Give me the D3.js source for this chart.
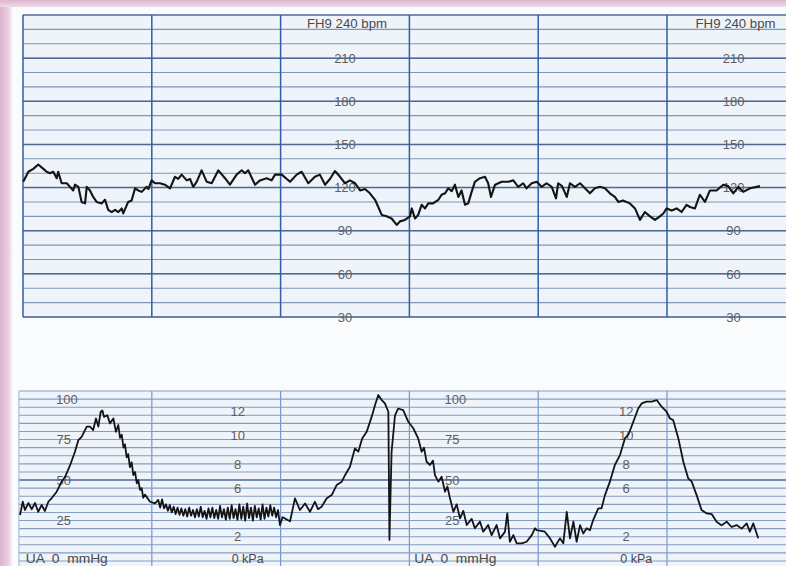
<!DOCTYPE html>
<html>
<head>
<meta charset="utf-8">
<script src="https://cdn.jsdelivr.net/npm/d3@7"></script>
<style>
html,body{margin:0;padding:0;background:#f9fbfd;}
svg{display:block;}
text{font-family:"Liberation Sans",Arial,sans-serif;}
</style>
</head>
<body>
<svg id="chart" width="786" height="566"></svg>
<script>
// ---------- DATA ----------
// Fetal heart rate trace: time (s) and beats per minute
const fhrTime = [0.1,2.5,4.8,7.1,9.5,11.0,12.6,14.1,15.7,16.4,18.0,20.4,21.9,23.4,24.2,25.8,27.3,28.9,29.7,31.2,32.7,34.3,36.7,38.2,39.7,41.3,42.9,44.4,46.0,46.7,49.0,50.6,52.2,53.7,55.3,57.6,58.4,59.9,61.5,63.8,66.1,68.5,70.8,72.3,73.9,76.3,77.8,79.3,80.9,83.2,85.6,87.9,91.0,94.1,96.4,99.5,101.9,103.4,104.9,106.5,108.1,110.4,113.5,115.8,117.4,120.5,124.4,127.5,129.8,132.9,136.0,138.3,140.7,143.0,145.3,147.7,150.0,152.3,154.7,157.0,159.3,161.6,164.0,165.5,167.1,169.4,171.7,174.1,175.6,177.9,180.3,181.1,182.6,184.1,185.7,187.3,188.8,191.0,193.5,195.0,196.6,198.1,199.7,201.2,202.8,204.3,205.9,207.4,209.0,210.5,212.9,215.2,216.7,218.0,219.9,223.0,226.1,228.4,230.7,233.0,234.6,237.0,239.3,241.6,243.9,246.3,248.3,249.3,251.1,253.3,254.8,257.1,259.5,261.8,264.1,266.4,268.8,271.1,273.4,275.7,277.3,279.5,282.7,285.1,287.4,289.7,292.1,294.4,296.7,298.3,299.8,302.2,304.5,306.8,309.1,310.7,313.0,315.3,317.7,320.0,323.1,326.2,328.5,330.9,333.2,335.5,338.7,341.8,343.3];
const fhrBpm = [124,131,133,136,133,131,130,131,126.5,131,123,123,120.5,118,122,120.5,110,109,120.5,118,113.5,110,109,111.5,104.5,103,104.5,103,105.5,102,110,111,119.5,118,117,120.5,119,125,123,123,122,119.5,127.5,126,129,125,126,120.5,124,132,124,123,132,126.5,122,129,132,130,132,127,122,125,126.5,125,129,129,124,129,131,123,127.5,129,122,126,131.5,127.5,123,125,123,118,119,116,111.5,106.5,101,100,98.5,94,96.5,97.5,100,105.5,98.5,101,108,105.5,109,109,111.5,115,116,119.5,117.5,122,113.5,118,108,109,117,124,126.5,127.5,123,113.5,122,124,124,125,120.5,123,119.5,123,124,120.5,123,120.5,112.5,123,121,113.5,123,120.5,123,119.5,116,119.5,120.5,119.5,116,113.5,110,111,109,105.5,97.5,103,100,97.5,100,102,105.5,104,105.5,103,108,106.5,105.5,115,110,118,118,122,121,116,120.5,117,119.5,120.5,121];

// Uterine activity trace: time (s) and pressure (mmHg)
const uaTime = [-1.4,-0.1,0.9,2.5,4.1,5.6,7.1,8.7,10.2,11.8,13.4,15.7,18.0,19.6,21.9,24.2,25.8,27.3,29.7,31.2,32.7,34.0,35.1,36.2,37.0,37.7,39.3,40.5,42.1,
  43.3,44.4,45.2,46.0,46.8,47.5,48.3,49.0,49.8,50.6,51.4,52.2,53.0,53.7,54.5,55.3,56.0,56.8,59.2,61.5,
  63.0,63.9,64.8,65.7,66.6,67.5,68.4,69.3,70.2,71.1,72.0,72.9,73.8,74.7,75.6,76.5,77.4,78.3,79.2,80.1,81.0,81.9,82.8,83.7,84.6,85.5,86.4,87.3,88.2,89.1,90.0,90.9,91.8,92.7,93.6,94.5,95.4,96.3,97.2,98.1,99.0,99.9,100.8,101.7,102.6,103.5,104.4,105.3,106.2,107.1,108.0,108.9,109.8,110.7,111.6,112.5,113.4,114.3,115.2,116.1,117.0,117.9,118.8,119.7,
  120.9,122.0,124.4,126.7,129.0,131.4,133.7,136.0,137.4,139.1,141.5,143.8,146.1,148.5,150.0,152.3,154.6,156.2,158.0,160.1,162.4,164.0,165.5,167.1,168.6,170.2,170.7,171.7,173.3,174.8,177.1,179.5,181.8,184.1,185.7,186.8,188.0,189.6,191.0,191.9,193.5,195.0,196.6,197.7,198.9,200.5,202.0,203.6,205.1,206.7,209.0,210.5,212.9,214.4,216.7,218.3,220.6,222.2,224.5,225.6,226.8,228.4,230.0,232.3,234.6,237.0,238.5,239.3,243.1,245.5,247.8,250.1,251.7,253.3,254.8,256.4,257.9,259.5,261.0,262.6,264.1,265.6,268.0,269.5,271.1,273.4,275.7,278.1,280.4,282.0,284.3,286.6,288.2,290.5,292.9,295.2,297.5,299.8,301.4,302.9,305.3,307.6,309.9,311.5,313.8,316.1,318.5,320.8,323.1,325.4,327.8,330.1,332.4,334.8,337.1,338.6,340.2,342.5];
const uaMmHg = [28.4,36.6,31.5,35.8,32,35.8,30.4,34.6,30.9,36.6,38.9,42.8,49,52,59,67.5,74.7,76.7,83,83,80.9,88,83,92.2,93,89,90,85,88,
  79.8,84,76,78,70,72,64,66,58,61,53,55,48,50,44,45,39,41,36.6,35.6,
  37.7,33,38,32.5,35,31,34.5,30,33.5,29,33,28.5,32.5,28,32,27.5,33,28,31.5,27,32,27.5,33.5,27,31,26,32.5,27,33,26.5,31.5,26,34,27,32,25.5,33,26,34.5,26.5,32,25.5,35,26,33.5,25,35.5,26.5,33,25,34,27,32.5,25.5,35,26,33,27.5,34.5,28,33,27,31.5,22.2,
  27,26.3,24.5,38.7,31.5,35.5,30.4,36.6,32,33.5,38.7,40.7,46.9,49,53,58.2,69.5,67.5,75.7,79.8,89,96.3,102.5,99.4,97.3,92.2,13,67.5,90,94.2,93.2,86,82,75.7,67.5,70,61.3,59.3,62,53,49,52,42.8,46,38.7,30.4,35,26.3,31,22.2,26,20.2,24.3,18.1,22.2,16,22.2,14,18,29.4,11.9,16,10.9,10.9,11.9,16,20.2,19.1,18.1,14,8.8,14,11,30.4,14,24.3,11.9,22.2,17,20.2,19,25.3,32.5,32.5,40.7,49,59.3,65.4,75.7,78,86,94.2,97.3,98.4,98.4,99.4,95.3,92.2,88,87,75.7,61.3,51,49,40.7,31.5,29.4,29,24.3,22,24.3,21,22.2,20,23.2,18.1,23.2,14];

// Grid and tick labels
const gridSeconds = [0,60,120,180,240,300,360];
const bpmTicks = [210,180,150,120,90,60,30];
const mmHgTicks = [100,75,50,25];
const kPaTicks = [12,10,8,6,2];
const fhrHeader = "FH9 240 bpm";
const uaFooter = "UA  0  mmHg";
const kPaFooter = "0 kPa";

// ---------- LAYOUT ----------
const svg = d3.select("#chart");
const W = 786, H = 566;

const x = d3.scaleLinear().domain([0,360]).range([23, 23 + 6*128.8]);
const yF = d3.scaleLinear().domain([30,240]).range([317,15]);
const yU = d3.scaleLinear().domain([0,105]).range([561,391]);

// frame
const defs = svg.append("defs");
const lg = defs.append("linearGradient").attr("id","pinkL").attr("x1","0").attr("x2","1");
lg.append("stop").attr("offset","0").attr("stop-color","#dcb4cc");
lg.append("stop").attr("offset","0.7").attr("stop-color","#ead0e0");
lg.append("stop").attr("offset","1").attr("stop-color","#f7eef4");
const tg = defs.append("linearGradient").attr("id","pinkT").attr("x1","0").attr("x2","0").attr("y1","0").attr("y2","1");
tg.append("stop").attr("offset","0").attr("stop-color","#dcb6cd");
tg.append("stop").attr("offset","1").attr("stop-color","#efdce8");

svg.append("rect").attr("width",W).attr("height",H).attr("fill","#f9fbfd");
svg.append("rect").attr("x",0).attr("y",0).attr("width",12).attr("height",H).attr("fill","url(#pinkL)");
svg.append("rect").attr("x",0).attr("y",0).attr("width",W).attr("height",7).attr("fill","url(#pinkT)");

// ---------- TOP PANEL (FHR) ----------
const topG = svg.append("g");
topG.append("rect").attr("x",x(0)).attr("y",yF(240)).attr("width",W - x(0)).attr("height",yF(30)-yF(240)).attr("fill","#eef4fa");
const bpmLines = d3.range(30,241,10);
topG.selectAll(null).data(bpmLines).join("line")
  .attr("x1",x(0)).attr("x2",W)
  .attr("y1",d=>yF(d)).attr("y2",d=>yF(d))
  .attr("stroke",d=> d%30===0 ? "#4f6996" : "#8196ba")
  .attr("stroke-width",d=> d%30===0 ? 1.5 : 1.1);

const bpmLabelTimes = [150,331];
bpmLabelTimes.forEach(t=>{
  topG.selectAll(null).data(bpmTicks).join("text")
    .attr("x",x(t)).attr("y",d=>yF(d)).attr("dy","0.36em")
    .attr("text-anchor","middle").attr("font-size",13).attr("fill","#5e5e5e")
    .text(d=>d);
  topG.append("text").attr("x",x(t)+2).attr("y",yF(233.8)).attr("dy","0.36em")
    .attr("text-anchor","middle").attr("font-size",12.5).attr("fill","#4a4a4a")
    .attr("textLength",80).attr("lengthAdjust","spacingAndGlyphs")
    .text(fhrHeader);
});
topG.selectAll(null).data(bpmTicks).join("line")
  .attr("x1",x(0)).attr("x2",W)
  .attr("y1",d=>yF(d)).attr("y2",d=>yF(d))
  .attr("stroke","#4f6996").attr("stroke-opacity",0.5).attr("stroke-width",1);

topG.selectAll(null).data(gridSeconds).join("line")
  .attr("x1",d=>x(d)).attr("x2",d=>x(d))
  .attr("y1",yF(240)).attr("y2",yF(30))
  .attr("stroke","#2f5fa6").attr("stroke-width",1.5);

const fhrData = fhrTime.map((t,i)=>[t,fhrBpm[i]]);
topG.append("path").datum(fhrData)
  .attr("d", d3.line().x(d=>x(d[0])).y(d=>yF(d[1])))
  .attr("fill","none").attr("stroke","#141414").attr("stroke-width",2.1)
  .attr("stroke-linejoin","round");

// ---------- BOTTOM PANEL (UA) ----------
const botG = svg.append("g");
const bx0 = x(-1.9);
botG.append("rect").attr("x",bx0).attr("y",yU(105)).attr("width",W-bx0).attr("height",H-yU(105)).attr("fill","#eef4fa");
const mmLines = d3.range(0,106,5);
botG.selectAll(null).data(mmLines).join("line")
  .attr("x1",bx0).attr("x2",W)
  .attr("y1",d=>yU(d)).attr("y2",d=>yU(d))
  .attr("stroke",d=> d===50 ? "#4f6996" : "#869dc2")
  .attr("stroke-width",d=> d===50 ? 1.5 : 1.1);
botG.append("line").attr("x1",bx0).attr("x2",bx0).attr("y1",yU(105)).attr("y2",H)
  .attr("stroke","#9fb5d6").attr("stroke-width",1);
botG.selectAll(null).data(gridSeconds.slice(1)).join("line")
  .attr("x1",d=>x(d)).attr("x2",d=>x(d))
  .attr("y1",yU(105)).attr("y2",H)
  .attr("stroke","#7399cf").attr("stroke-width",1.2);

const mmLabelTimes = [19, 200];
const kPaLabelTimes = [100, 281];
mmLabelTimes.forEach(t=>{
  botG.selectAll(null).data(mmHgTicks).join("text")
    .attr("x",d=> x(t) + (d===100 ? 3 : 0)).attr("y",d=>yU(d)).attr("dy","0.36em")
    .attr("text-anchor","middle").attr("font-size",13).attr("fill","#5e5e5e")
    .text(d=>d);
  botG.append("text").attr("x",x(t)-38).attr("y",yU(1.8)).attr("dy","0.36em")
    .attr("font-size",12.5).attr("fill","#4a4a4a")
    .attr("textLength",82).attr("lengthAdjust","spacingAndGlyphs")
    .style("white-space","pre")
    .text(uaFooter);
});
kPaLabelTimes.forEach(t=>{
  botG.selectAll(null).data(kPaTicks).join("text")
    .attr("x",x(t)).attr("y",d=>yU(d*7.5) - (d>=10 ? 4 : 0)).attr("dy","0.36em")
    .attr("text-anchor","middle").attr("font-size",13).attr("fill","#5e5e5e")
    .text(d=>d);
  botG.append("text").attr("x",x(t)-6).attr("y",yU(1.3)).attr("dy","0.36em")
    .attr("font-size",12.5).attr("fill","#4a4a4a")
    .text(kPaFooter);
});

const uaData = uaTime.map((t,i)=>[t,uaMmHg[i]]);
botG.append("path").datum(uaData)
  .attr("d", d3.line().x(d=>x(d[0])).y(d=>yU(d[1])))
  .attr("fill","none").attr("stroke","#141414").attr("stroke-width",1.8)
  .attr("stroke-linejoin","round");
</script>
</body>
</html>
